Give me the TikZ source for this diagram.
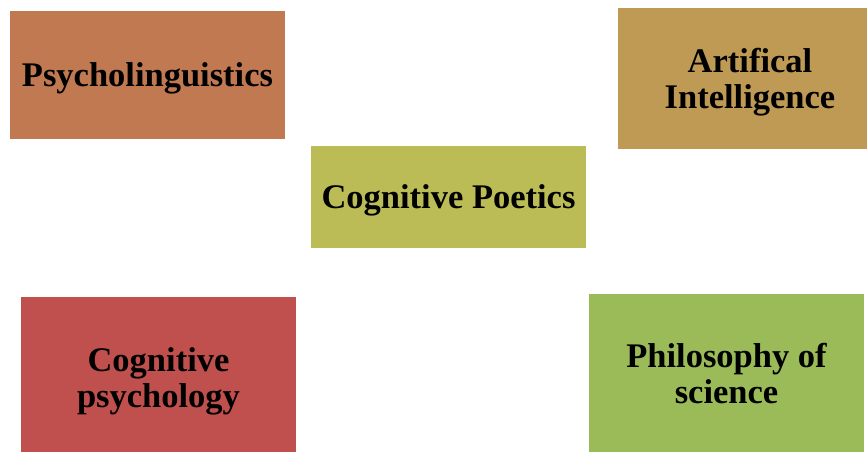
\documentclass[tikz,border=0pt]{standalone}
\usepackage{fontspec}
\setmainfont{Liberation Serif}
\usepackage{tikz}
\definecolor{psycol}{RGB}{192,121,80}
\definecolor{aicol}{RGB}{190,154,84}
\definecolor{poetcol}{RGB}{188,188,86}
\definecolor{cogcol}{RGB}{192,80,77}
\definecolor{philcol}{RGB}{155,187,89}
\begin{document}
\begin{tikzpicture}[line cap=round,line join=round,x=1pt,y=-1pt,
  field/.style={rectangle,inner sep=0pt,align=center,text depth=0pt,
    font=\fontsize{34.5}{36}\selectfont\bfseries}]
\clip (0,0) rectangle (867,452);
\node[field,fill=psycol,minimum width=275pt,minimum height=128pt] (psy) at (147.5,75) {Psycholinguistics};
\node[field,fill=aicol,minimum width=264pt,minimum height=141pt] (ai) at (750,78.5) {Artifical\\Intelligence};
\node[field,fill=poetcol,minimum width=275pt,minimum height=102pt] (poet) at (448.5,197) {Cognitive Poetics};
\node[field,fill=cogcol,minimum width=275pt,minimum height=162pt] (cog) at (158.5,378) {Cognitive\\psychology};
\node[field,fill=philcol,minimum width=275pt,minimum height=159pt] (phil) at (726.5,373.5) {Philosophy of\\science};
\end{tikzpicture}
\end{document}
